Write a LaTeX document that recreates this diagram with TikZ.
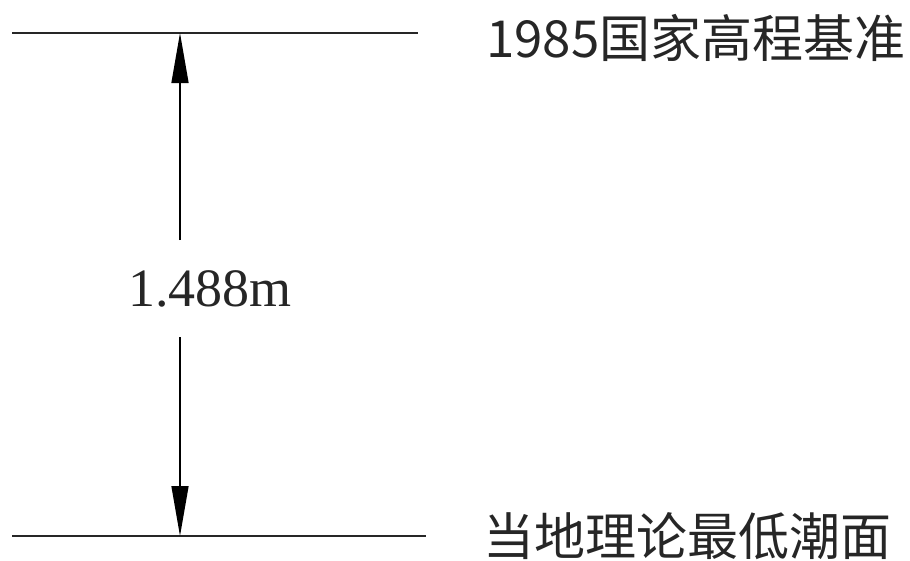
\documentclass[tikz,border=0pt]{standalone}
\usepackage{fontspec}
\setmainfont{Liberation Serif}
\newfontfamily\cjk{Noto Sans CJK SC}
\usetikzlibrary{arrows.meta}
\begin{document}
\begin{tikzpicture}[x=1pt,y=-1pt,
  levelline/.style={line width=2.4pt, draw=black!85},
  dimline/.style={line width=1.4pt, draw=black, -{Triangle[length=50pt,width=17pt]}},
  cjklabel/.style={inner sep=0pt, anchor=base west, font=\cjk\fontsize{51}{60}\selectfont, text=black!85},
  dimlabel/.style={inner sep=0pt, font=\fontsize{54}{60}\selectfont, text=black!85}]
\useasboundingbox (0,0) rectangle (910,560);
% level lines
\coordinate (tl) at (12,33);
\coordinate (tr) at (418,33);
\coordinate (bl) at (12,536);
\coordinate (br) at (426,536);
\draw[levelline] (tl) -- (tr);
\draw[levelline] (bl) -- (br);
% dimension
\coordinate (top) at (180,33);
\coordinate (bot) at (180,536);
\coordinate (gapA) at (180,240);
\coordinate (gapB) at (180,337);
\draw[dimline] (gapA) -- (top);
\draw[dimline] (gapB) -- (bot);
\node[dimlabel] (dim) at (210,289) {1.488m};
% labels
\node[cjklabel] (upper) at (486,57) {1985国家高程基准};
\node[cjklabel] (lower) at (483,555) {当地理论最低潮面};
\end{tikzpicture}
\end{document}
